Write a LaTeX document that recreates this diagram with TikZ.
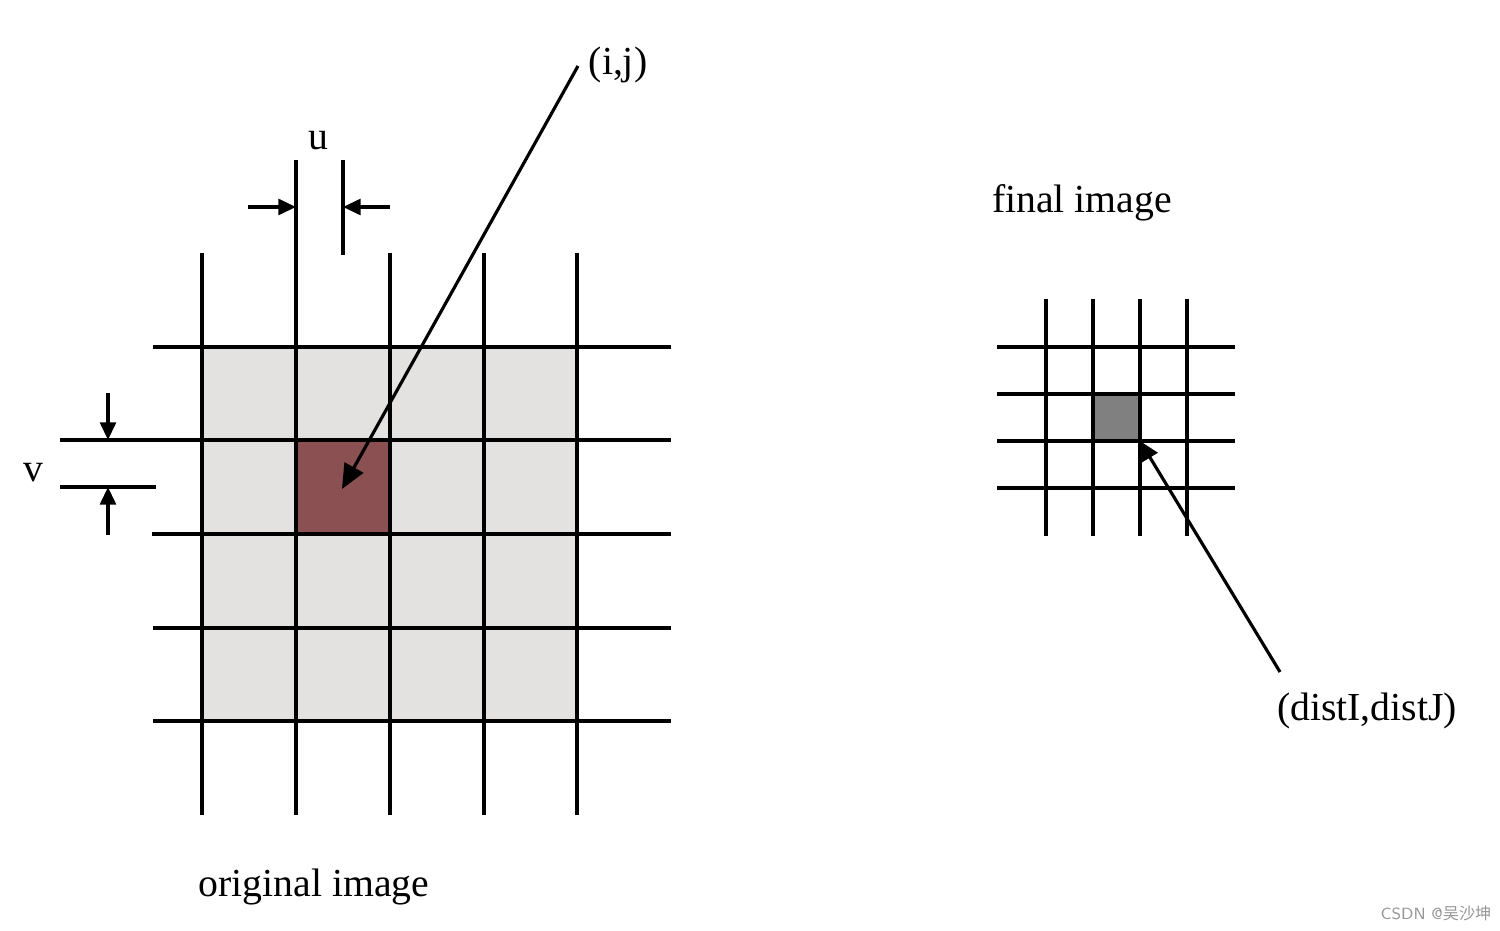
\documentclass[tikz,border=0pt]{standalone}
\usepackage{fontspec}
\setmainfont{Liberation Serif}
\newfontfamily\cjk{Noto Sans CJK SC}
\usetikzlibrary{arrows.meta}
\definecolor{bgcell}{RGB}{228,225,225}
\definecolor{redcell}{RGB}{138,80,82}
\definecolor{graycell}{RGB}{128,128,128}
\definecolor{wmgray}{RGB}{150,150,150}
\begin{document}
\begin{tikzpicture}[x=0.01cm,y=-0.01cm,
  gridline/.style={line width=0.9pt, black},
  dimarrow/.style={line width=0.9pt, -{Triangle[length=5pt,width=4.5pt]}},
  pointer/.style={line width=0.9pt, -{Triangle[length=7pt,width=6pt]}},
  smallpointer/.style={line width=0.9pt, -{Triangle[length=5.5pt,width=5pt]}},
  lbl/.style={font=\fontsize{11.3}{13}\selectfont, inner sep=0pt}]
\useasboundingbox (0,0) rectangle (1500,931);
% fills
\fill[bgcell] (202,347) rectangle (577,721);
\fill[redcell] (296,440) rectangle (390,534);
\fill[graycell] (1093,394) rectangle (1140,440);
% left grid verticals
\foreach \x in {202,390,484,577} \draw[gridline] (\x,253) -- (\x,815);
\draw[gridline] (296,160) -- (296,815);
\draw[gridline] (343,160) -- (343,255);
% left grid horizontals
\draw[gridline] (153,347) -- (671,347);
\draw[gridline] (60,440) -- (671,440);
\draw[gridline] (60,487) -- (156,487);
\draw[gridline] (152,534) -- (671,534);
\draw[gridline] (153,628) -- (671,628);
\draw[gridline] (153,721) -- (671,721);
% dimension markers
\coordinate (ua) at (248,207);
\coordinate (ub) at (296,207);
\coordinate (uc) at (390,207);
\coordinate (ud) at (343,207);
\draw[dimarrow] (ua) -- (ub);
\draw[dimarrow] (uc) -- (ud);
\coordinate (va) at (108,393);
\coordinate (vb) at (108,440);
\coordinate (vc) at (108,535);
\coordinate (vd) at (108,487);
\draw[dimarrow] (va) -- (vb);
\draw[dimarrow] (vc) -- (vd);
% right grid
\foreach \x in {1046,1093,1140,1187} \draw[gridline] (\x,299) -- (\x,536);
\foreach \y in {347,394,441,488} \draw[gridline] (997,\y) -- (1235,\y);
% labels
\node[lbl] (u) at (318,141) {u};
\node[lbl] (v) at (33,473) {v};
\node[lbl] (ij) at (618,65) {(i,j)};
\node[lbl] (orig) at (314,887) {original image};
\node[lbl] (final) at (1082,203) {final image};
\node[lbl] (dist) at (1367,711) {(distI,distJ)};
\node[inner sep=0pt, text=wmgray, font=\sffamily\fontsize{4.6}{5}\selectfont] (wm) at (1436,913) {CSDN @{\cjk 吴沙坤}};
% pointers
\coordinate (ijstart) at (578,66);
\coordinate (ijend) at (342,489);
\draw[pointer] (ijstart) -- (ijend);
\coordinate (dstart) at (1280,672);
\coordinate (dend) at (1140,441);
\draw[smallpointer] (dstart) -- (dend);
\end{tikzpicture}
\end{document}
